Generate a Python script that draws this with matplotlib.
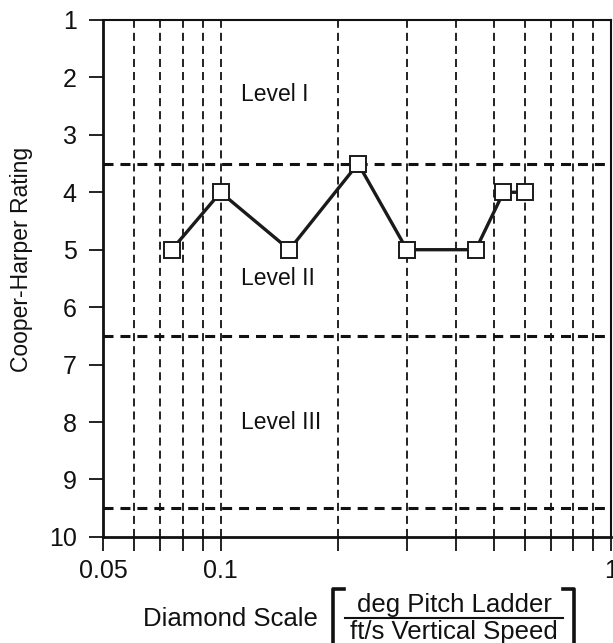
import numpy as np
import matplotlib
matplotlib.use("Agg")
import matplotlib.pyplot as plt
from matplotlib.lines import Line2D
from matplotlib.ticker import NullFormatter, FixedLocator

plt.rcParams['font.family'] = ['Liberation Sans', 'DejaVu Sans']
plt.rcParams['lines.scale_dashes'] = False

# ratings vs diamond scale
diamond_scale = [0.075, 0.10, 0.15, 0.225, 0.30, 0.45, 0.53, 0.60]
ch_rating = [5, 4, 5, 3.5, 5, 5, 4, 4]

# level boundaries and log grid
level_bounds = [3.5, 6.5, 9.5]
level_names = ["Level I", "Level II", "Level III"]
level_y = [2.3, 5.5, 8.0]
grid_x = [0.06, 0.07, 0.08, 0.09, 0.1, 0.2, 0.3, 0.4, 0.5, 0.6, 0.7, 0.8, 0.9]
major_x = [0.05, 0.1, 1.0]
major_x_labels = ["0.05", "0.1", "1"]
y_ticks = list(range(1, 11))

fig = plt.figure(figsize=(6.13, 6.43), dpi=100)
ax = fig.add_axes([0.168, 0.165, 0.829, 0.804])

ax.set_xscale('log')
ax.set_xlim(0.05, 1.0)
ax.set_ylim(10, 1)

# dashed grid
for gx in grid_x:
    ax.axvline(gx, color='#111111', lw=1.3, dashes=(5.8, 3.6), zorder=1)
for hb in level_bounds:
    ax.axhline(hb, color='#111111', lw=2.2, dashes=(7.2, 5.0), zorder=1)

ax.plot(diamond_scale, ch_rating, color='#1a1a1a', lw=2.4, marker='s',
        markersize=12, markerfacecolor='white', markeredgecolor='#1a1a1a',
        markeredgewidth=1.4, zorder=3)

for name, ly in zip(level_names, level_y):
    ax.text(0.113, ly, name, fontsize=16.5, va='center', ha='left', color='#111111')

ax.xaxis.set_major_locator(FixedLocator(major_x))
ax.set_xticklabels(major_x_labels)
ax.xaxis.set_minor_locator(FixedLocator(grid_x))
ax.xaxis.set_minor_formatter(NullFormatter())
ax.set_yticks(y_ticks)

ax.tick_params(axis='both', which='both', direction='out', length=10,
               width=1.3, color='#111111', labelsize=18, labelcolor='#111111')
ax.tick_params(axis='x', which='both', pad=6)
ax.tick_params(axis='y', pad=9)
for side in ['left', 'bottom']:
    ax.spines[side].set_linewidth(2.0)
for side in ['top', 'right']:
    ax.spines[side].set_linewidth(1.5)
for sp in ax.spines.values():
    sp.set_color('#111111')

fig.text(22 / 613, 1 - 259 / 643, "Cooper-Harper Rating", rotation=90,
         fontsize=16.5, ha='center', va='center', color='#111111')

# x label with bracketed fraction
W, H = 613.0, 643.0
fig.text(143 / W, 1 - 619 / H, "Diamond Scale", fontsize=18.5,
         ha='left', va='center', color='#111111')
fig.text(454 / W, 1 - 612 / H, "deg Pitch Ladder", fontsize=18.5,
         ha='center', va='baseline', color='#111111')
fig.text(454 / W, 1 - 639 / H, "ft/s Vertical Speed", fontsize=18.5,
         ha='center', va='baseline', color='#111111')
fig.add_artist(Line2D([345 / W, 563 / W], [1 - 618 / H, 1 - 618 / H],
                      transform=fig.transFigure, color='#111111', lw=1.5))
# brackets
lb = [333, 589, 648]
fig.add_artist(Line2D([(lb[0] + 11) / W, lb[0] / W, lb[0] / W, (lb[0] + 11) / W],
                      [1 - lb[1] / H, 1 - lb[1] / H, 1 - lb[2] / H, 1 - lb[2] / H],
                      transform=fig.transFigure, color='#111111', lw=2.6))
rb = [574, 589, 648]
fig.add_artist(Line2D([(rb[0] - 11) / W, rb[0] / W, rb[0] / W, (rb[0] - 11) / W],
                      [1 - rb[1] / H, 1 - rb[1] / H, 1 - rb[2] / H, 1 - rb[2] / H],
                      transform=fig.transFigure, color='#111111', lw=2.6))

fig.savefig("out.png", dpi=100)
